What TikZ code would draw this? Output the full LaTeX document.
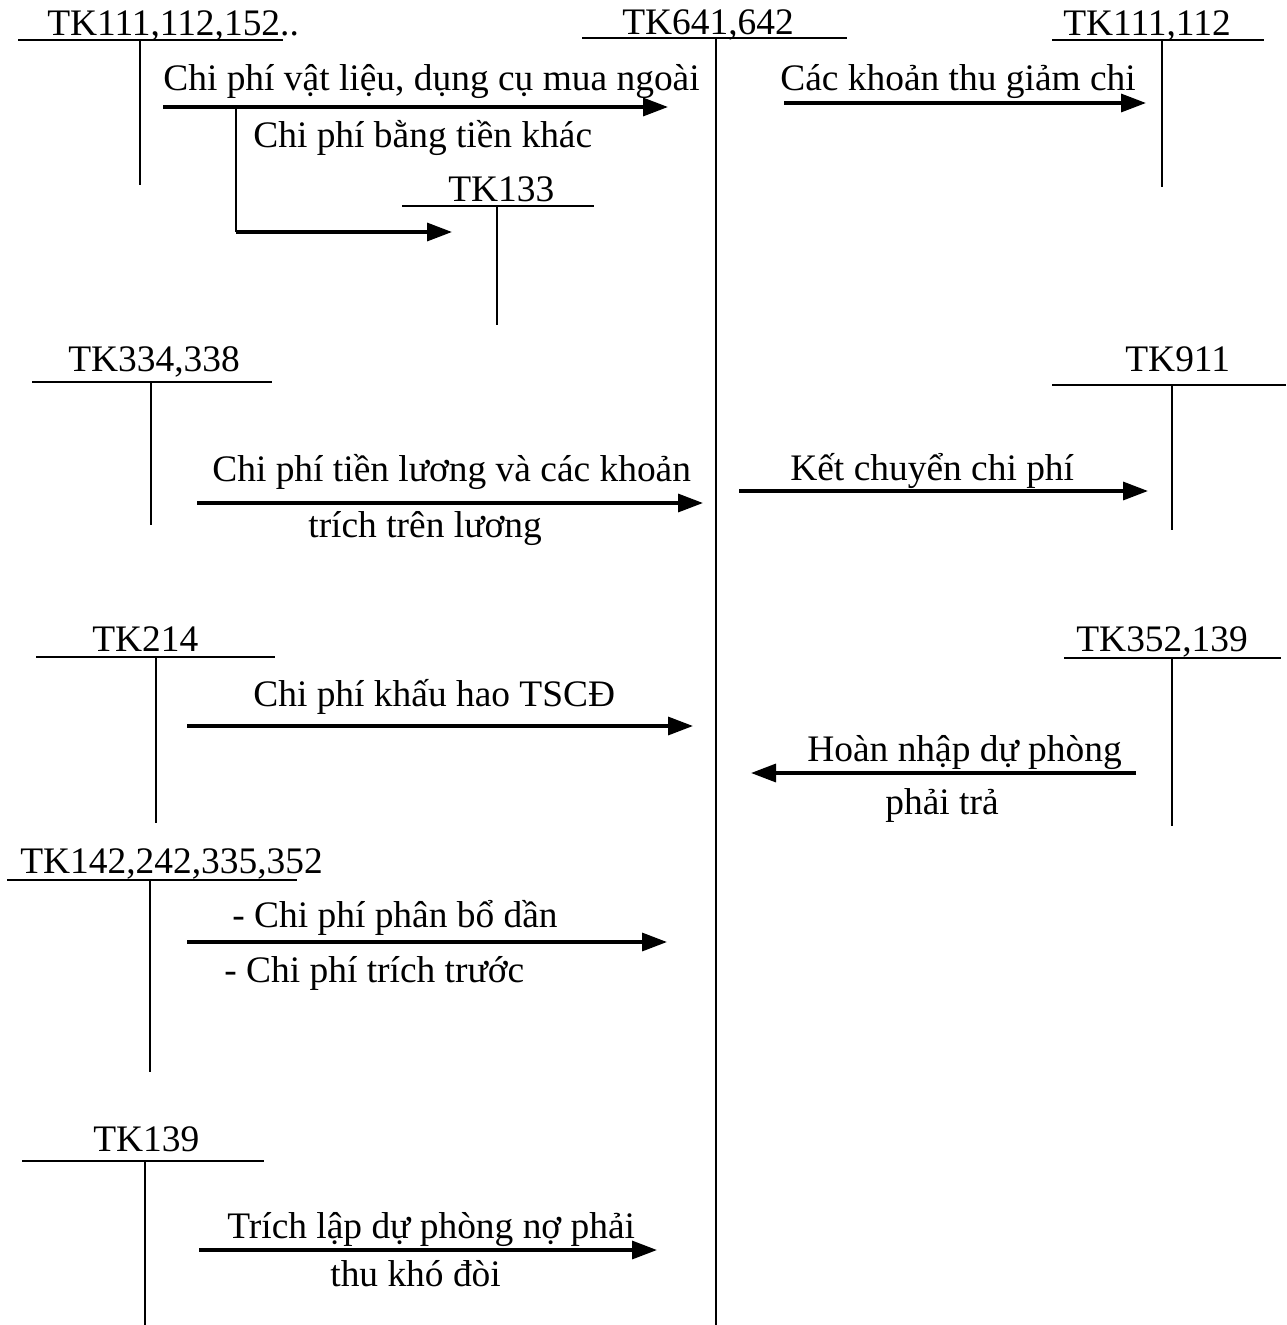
\documentclass[tikz,border=0pt]{standalone}
\usepackage{fontspec}
\setmainfont{Liberation Serif}
\usetikzlibrary{arrows.meta}

\tikzset{
  acct/.style={line width=1.3pt},
  flow/.style={line width=1.9pt, -{Triangle[length=0.5cm,width=0.36cm]}},
  lbl/.style={anchor=base west, inner sep=0pt},
}

\begin{document}
\begin{tikzpicture}[x=0.02cm, y=-0.02cm, every node/.style={font=\fontsize{21.3}{25}\selectfont}]
        \useasboundingbox (0,0) rectangle (1286,1325);
        % TK641,642 (centre account)
        \draw[acct] (582,38) -- (847,38);
        \draw[acct] (716,38) -- (716,1325);
        \node[lbl] (tkmain) at (622,34) {TK641,642};
        % TK111,112,152..
        \draw[acct] (18,40) -- (283,40);
        \draw[acct] (140,40) -- (140,185);
        \node[lbl] (tkcash) at (47,35) {TK111,112,152..};
        \coordinate (cashout) at (163,107);
        \coordinate (mainin1) at (668,107);
        \draw[flow] (cashout) -- (mainin1);
        \node[lbl] (matl) at (163,90) {Chi phí vật liệu, dụng cụ mua ngoài};
        \node[lbl] (other) at (253,147) {Chi phí bằng tiền khác};
        % TK133
        \draw[acct] (402,206) -- (594,206);
        \draw[acct] (497,206) -- (497,325);
        \node[lbl] (tkvat) at (448,201) {TK133};
        \coordinate (branch) at (236,107);
        \coordinate (vatin) at (452,232);
        \coordinate (corner) at (branch |- vatin);
        \draw[acct] (branch) -- (corner);
        \draw[flow] (corner) -- (vatin);
        % TK111,112 (right)
        \draw[acct] (1052,40) -- (1264,40);
        \draw[acct] (1162,40) -- (1162,187);
        \node[lbl] (tkrefund) at (1063,35) {TK111,112};
        \coordinate (mainout1) at (784,103);
        \coordinate (refundin) at (1146,103);
        \draw[flow] (mainout1) -- (refundin);
        \node[lbl] (refund) at (780,90) {Các khoản thu giảm chi};
        % TK334,338
        \draw[acct] (32,382) -- (272,382);
        \draw[acct] (151,382) -- (151,525);
        \node[lbl] (tkwage) at (68,371) {TK334,338};
        \coordinate (wageout) at (197,503);
        \coordinate (mainin2) at (703,503);
        \draw[flow] (wageout) -- (mainin2);
        \node[lbl] (wage1) at (212,481) {Chi phí tiền lương và các khoản};
        \node[lbl] (wage2) at (308,537) {trích trên lương};
        % TK911
        \draw[acct] (1052,385) -- (1286,385);
        \draw[acct] (1172,385) -- (1172,530);
        \node[lbl] (tkresult) at (1125,371) {TK911};
        \coordinate (mainout2) at (739,491);
        \coordinate (resultin) at (1148,491);
        \draw[flow] (mainout2) -- (resultin);
        \node[lbl] (close) at (790,480) {Kết chuyển chi phí};
        % TK214
        \draw[acct] (36,657) -- (275,657);
        \draw[acct] (156,657) -- (156,823);
        \node[lbl] (tkdepr) at (92,651) {TK214};
        \coordinate (deprout) at (187,726);
        \coordinate (mainin3) at (693,726);
        \draw[flow] (deprout) -- (mainin3);
        \node[lbl] (depr) at (253,706) {Chi phí khấu hao TSCĐ};
        % TK352,139
        \draw[acct] (1064,658) -- (1281,658);
        \draw[acct] (1172,658) -- (1172,826);
        \node[lbl] (tkprov) at (1076,651) {TK352,139};
        \coordinate (provout) at (1136,773);
        \coordinate (mainout3) at (751,773);
        \draw[flow] (provout) -- (mainout3);
        \node[lbl] (rev1) at (807,761) {Hoàn nhập dự phòng};
        \node[lbl] (rev2) at (885,814) {phải trả};
        % TK142,242,335,352
        \draw[acct] (7,880) -- (297,880);
        \draw[acct] (150,880) -- (150,1072);
        \node[lbl] (tkprepaid) at (20,873) {TK142,242,335,352};
        \coordinate (prepaidout) at (187,942);
        \coordinate (mainin4) at (667,942);
        \draw[flow] (prepaidout) -- (mainin4);
        \node[lbl] (alloc) at (232,927) {- Chi phí phân bổ dần};
        \node[lbl] (accr) at (224,982) {- Chi phí trích trước};
        % TK139
        \draw[acct] (22,1161) -- (264,1161);
        \draw[acct] (145,1161) -- (145,1325);
        \node[lbl] (tkbad) at (93,1151) {TK139};
        \coordinate (badout) at (199,1250);
        \coordinate (mainin5) at (657,1250);
        \draw[flow] (badout) -- (mainin5);
        \node[lbl] (bad1) at (227,1238) {Trích lập dự phòng nợ phải};
        \node[lbl] (bad2) at (330,1286) {thu khó đòi};
    \end{tikzpicture}
\end{document}
